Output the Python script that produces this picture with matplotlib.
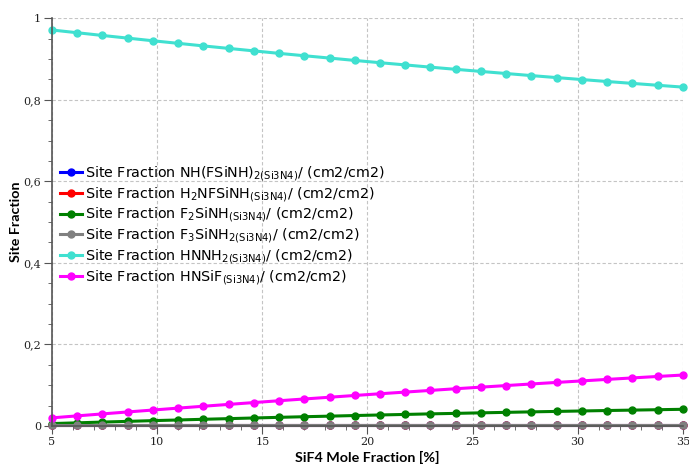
import numpy as np
import matplotlib
matplotlib.use("Agg")
import matplotlib.pyplot as plt
from matplotlib.ticker import MultipleLocator, FuncFormatter

# SiF4 mole fraction [%]
x = [5.0, 6.2, 7.4, 8.6, 9.8, 11.0, 12.2, 13.4, 14.6, 15.8, 17.0, 18.2, 19.4,
     20.6, 21.8, 23.0, 24.2, 25.4, 26.6, 27.8, 29.0, 30.2, 31.4, 32.6, 33.8, 35.0]

# site fractions
nh_fsinh = [0.002] * 26
h2nfsinh = [0.002] * 26
f2sinh = [0.0060, 0.0078, 0.0097, 0.0114, 0.0132, 0.0148, 0.0165, 0.0181, 0.0197,
          0.0213, 0.0228, 0.0242, 0.0257, 0.0271, 0.0284, 0.0298, 0.0310, 0.0323,
          0.0335, 0.0347, 0.0358, 0.0369, 0.0380, 0.0390, 0.0400, 0.0410]
f3sinh2 = [0.003] * 26
hnnh2 = [0.9710, 0.9643, 0.9576, 0.9511, 0.9446, 0.9383, 0.9320, 0.9259, 0.9198,
         0.9137, 0.9079, 0.9022, 0.8964, 0.8908, 0.8854, 0.8799, 0.8746, 0.8694,
         0.8643, 0.8592, 0.8543, 0.8495, 0.8447, 0.8401, 0.8355, 0.8310]
hnsif = [0.0200, 0.0249, 0.0297, 0.0345, 0.0392, 0.0439, 0.0485, 0.0530, 0.0575,
         0.0620, 0.0663, 0.0706, 0.0749, 0.0791, 0.0832, 0.0873, 0.0914, 0.0953,
         0.0992, 0.1031, 0.1069, 0.1106, 0.1143, 0.1179, 0.1215, 0.1250]

labels = [
    r"Site Fraction NH(FSiNH)$_{\mathregular{2(Si3N4)}}$/ (cm2/cm2)",
    r"Site Fraction H$_{\mathregular{2}}$NFSiNH$_{\mathregular{(Si3N4)}}$/ (cm2/cm2)",
    r"Site Fraction F$_{\mathregular{2}}$SiNH$_{\mathregular{(Si3N4)}}$/ (cm2/cm2)",
    r"Site Fraction F$_{\mathregular{3}}$SiNH$_{\mathregular{2(Si3N4)}}$/ (cm2/cm2)",
    r"Site Fraction HNNH$_{\mathregular{2(Si3N4)}}$/ (cm2/cm2)",
    r"Site Fraction HNSiF$_{\mathregular{(Si3N4)}}$/ (cm2/cm2)",
]
series = [nh_fsinh, h2nfsinh, f2sinh, f3sinh2, hnnh2, hnsif]
colors = ["#0000FF", "#FF0000", "#008000", "#808080", "#40E0D0", "#FF00FF"]

fig = plt.figure(figsize=(6.89, 4.66), dpi=100)
ax = fig.add_axes([0.0755, 0.0858, 0.9155, 0.8752])

for y, c, lab in zip(series, colors, labels):
    ax.plot(x, y, color=c, lw=2.2, marker="o", ms=5, label=lab, clip_on=False)

ax.set_xlim(5, 35)
ax.set_ylim(0, 1)
ax.xaxis.set_major_locator(MultipleLocator(5))
ax.xaxis.set_minor_locator(MultipleLocator(1))
ax.yaxis.set_major_locator(MultipleLocator(0.2))
ax.yaxis.set_minor_locator(MultipleLocator(0.05))
ax.yaxis.set_major_formatter(FuncFormatter(lambda v, p: ("%g" % round(v, 2)).replace(".", ",")))

ax.grid(True, which="major", color="#c4c4c4", ls=(0, (3, 2)), lw=0.8)
for s in ["top", "right"]:
    ax.spines[s].set_visible(False)
for s in ["left", "bottom"]:
    ax.spines[s].set_color("#555555")
    ax.spines[s].set_linewidth(1.2)

ax.tick_params(which="major", length=6, color="#555555", labelsize=8, pad=2)
ax.tick_params(which="minor", length=3, color="#555555")
for t in ax.get_xticklabels() + ax.get_yticklabels():
    t.set_family("DejaVu Serif")
    t.set_color("#222222")

ax.set_xlabel("SiF4 Mole Fraction [%]", fontsize=10.3, fontweight="bold", family="Lato", labelpad=3)
ax.set_ylabel("Site Fraction", fontsize=10.3, fontweight="bold", family="Lato", labelpad=1)

ax.legend(loc="upper left", bbox_to_anchor=(-0.004, 0.667), frameon=False, fontsize=10.3,
          handlelength=1.6, handletextpad=0.15, labelspacing=0.12, borderaxespad=0.3)

fig.savefig("out.png", dpi=100)
